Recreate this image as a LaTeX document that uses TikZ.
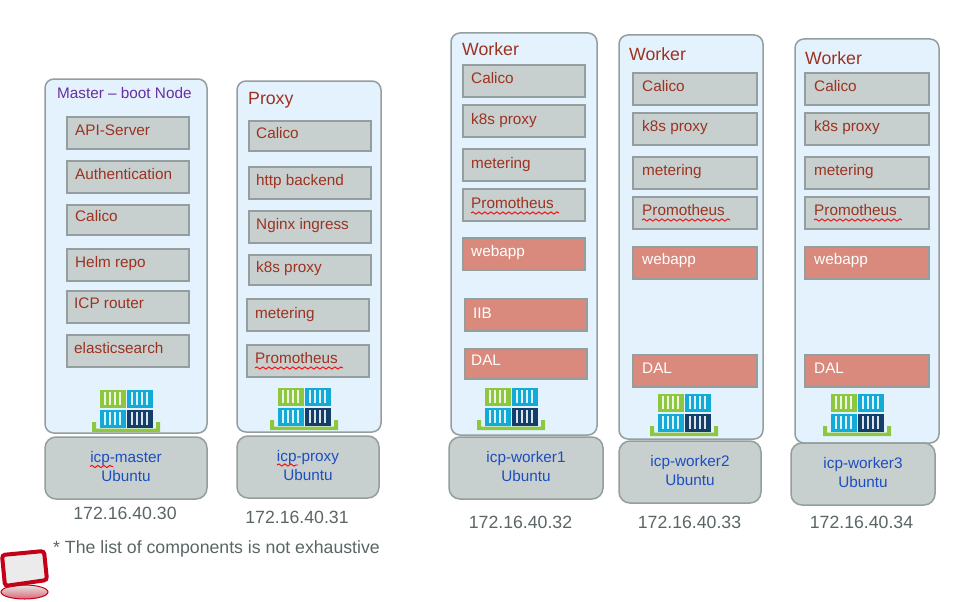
\documentclass[tikz,border=0pt]{standalone}
\usepackage{fontspec}
\usetikzlibrary{decorations.pathmorphing}
\setmainfont{Liberation Sans}
\definecolor{panelblue}{RGB}{228,242,254}
\definecolor{panelline}{RGB}{148,158,158}
\definecolor{compgrey}{RGB}{200,207,207}
\definecolor{compred}{RGB}{156,50,32}
\definecolor{appsalmon}{RGB}{217,138,125}
\definecolor{hostblue}{RGB}{28,78,190}
\definecolor{masterpurple}{RGB}{104,48,160}
\definecolor{ipgrey}{RGB}{90,102,102}
\definecolor{boxgreen}{RGB}{141,198,63}
\definecolor{boxcyan}{RGB}{20,170,215}
\definecolor{boxnavy}{RGB}{18,62,105}
\definecolor{laptopred}{RGB}{196,0,24}
\tikzset{
  x=1pt,y=-1pt,
  panel/.style={draw=panelline,line width=1.5pt,fill=panelblue,rounded corners=9pt,anchor=north west,inner sep=0pt,outer sep=0pt},
  hostbox/.style={draw=panelline,line width=1.5pt,fill=compgrey,rounded corners=11pt,anchor=north west,inner sep=0pt,outer sep=0pt,
    minimum height=62pt,align=center,text=hostblue,text depth=3pt,font=\fontsize{15.3}{19}\selectfont},
  compbox/.style={draw=panelline,line width=1.5pt,fill=compgrey,anchor=north west,inner sep=0pt,outer sep=0pt,
    minimum width=122pt,minimum height=32pt},
  widebox/.style={compbox,minimum width=124pt},
  appbox/.style={compbox,fill=appsalmon},
  wideapp/.style={widebox,fill=appsalmon},
  comptext/.style={anchor=base west,inner sep=0pt,text=compred,font=\fontsize{15.3}{17}\selectfont},
  apptext/.style={comptext,text=white},
  titletext/.style={anchor=base west,inner sep=0pt,text=compred,font=\fontsize{17.7}{20}\selectfont},
  iptext/.style={anchor=base,inner sep=0pt,text=ipgrey,font=\fontsize{17.7}{20}\selectfont},
  squiggle/.style={draw=red,line width=0.9pt,decorate,decoration={snake,amplitude=1.1pt,segment length=6pt}},
  crate/.pic={
    \fill[#1] (-13,-9) rectangle (13,9);
    \foreach \i in {-7.5,-2.5,2.5,7.5} \fill[white!85!#1] (\i-1.1,-6.5) rectangle (\i+1.1,6.5);
  },
  stack/.pic={
    \pic at (-13.5,-9.5) {crate=boxgreen};
    \pic at (13.5,-9.5) {crate=boxcyan};
    \pic at (-13.5,10.5) {crate=boxcyan};
    \pic at (13.5,10.5) {crate=boxnavy};
    \fill[boxgreen] (-34,14) -- (-30,14) -- (-30,20.5) -- (30,20.5) -- (30,14) -- (34,14) -- (34,24) -- (-34,24) -- cycle;
  }
}

\begin{document}
\begin{tikzpicture}
    \useasboundingbox (0,0) rectangle (966,602);
    \fill[white] (0,0) rectangle (966,602);

    % master
    \node[panel,minimum width=162pt,minimum height=354pt] (masterpanel) at (45,79) {};
    \node[anchor=base west,inner sep=0pt,text=masterpurple,font=\fontsize{15.3}{17}\selectfont] (mastertitle) at (57,98) {Master -- boot Node};
    \node[compbox] (m1) at (67,117) {};
    \node[compbox] (m2) at (67,161) {};
    \node[compbox,minimum height=30pt] (m3) at (67,205) {};
    \node[compbox] (m4) at (67,249) {};
    \node[compbox] (m5) at (67,291) {};
    \node[compbox] (m6) at (67,335) {};
    \node[comptext] (m1t) at (75,135) {API-Server};
    \node[comptext] (m2t) at (75,179) {Authentication};
    \node[comptext] (m3t) at (75,221) {Calico};
    \node[comptext] (m4t) at (75,267) {Helm repo};
    \node[comptext] (m5t) at (74,308) {ICP router};
    \node[comptext] (m6t) at (74,353) {elasticsearch};
    \pic at (126,408) {stack};
    \node[hostbox,minimum width=162pt] (masterhost) at (45,437) {icp-master\\Ubuntu};
    \draw[squiggle] (90,466.5) -- (113,466.5);
    \node[iptext] (masterip) at (125,519) {172.16.40.30};

    % proxy
    \node[panel,minimum width=144pt,minimum height=351pt] (proxypanel) at (237,81) {};
    \node[titletext] (proxytitle) at (248,104) {Proxy};
    \node[compbox,minimum height=30pt] (p1) at (249,121) {};
    \node[compbox] (p2) at (249,167) {};
    \node[compbox] (p3) at (249,211) {};
    \node[compbox,minimum height=30pt] (p4) at (249,255) {};
    \node[compbox] (p5) at (247,299) {};
    \node[compbox] (p6) at (247,345) {};
    \node[comptext] (p1t) at (256,138) {Calico};
    \node[comptext] (p2t) at (256,185) {http backend};
    \node[comptext] (p3t) at (256,229) {Nginx ingress};
    \node[comptext] (p4t) at (256,272) {k8s proxy};
    \node[comptext] (p5t) at (255,318) {metering};
    \node[comptext] (p6t) at (255,363) {Promotheus};
    \draw[squiggle] (255,368) -- (343,368);
    \pic at (304,406) {stack};
    \node[hostbox,minimum width=142pt] (proxyhost) at (237,436) {icp-proxy\\Ubuntu};
    \draw[squiggle] (277,465) -- (298,465);
    \node[iptext] (proxyip) at (297,523) {172.16.40.31};

    % worker1
    \node[panel,minimum width=146pt,minimum height=402pt] (w1panel) at (451,33) {};
    \node[titletext] (w1title) at (462,56) {Worker};
    \node[compbox] (a1) at (463,65) {};
    \node[compbox] (a2) at (463,105) {};
    \node[compbox] (a3) at (463,149) {};
    \node[compbox] (a4) at (463,189) {};
    \node[appbox] (a5) at (463,238) {};
    \node[appbox] (a6) at (465,299) {};
    \node[appbox,minimum height=30pt] (a7) at (465,349) {};
    \node[comptext] (a1t) at (471,84) {Calico};
    \node[comptext] (a2t) at (471,124) {k8s proxy};
    \node[comptext] (a3t) at (471,168) {metering};
    \node[comptext] (a4t) at (471,208) {Promotheus};
    \node[apptext] (a5t) at (471,256) {webapp};
    \node[apptext] (a6t) at (473,318) {IIB};
    \node[apptext] (a7t) at (471,365) {DAL};
    \draw[squiggle] (471,213) -- (559,213);
    \pic at (511,406) {stack};
    \node[hostbox,minimum width=154pt] (w1host) at (449,437) {icp-worker1\\Ubuntu};
    \node[iptext] (w1ip) at (520.5,528) {172.16.40.32};

    % worker2
    \node[panel,minimum width=144pt,minimum height=404pt] (w2panel) at (619,35) {};
    \node[titletext] (w2title) at (629,60) {Worker};
    \node[widebox] (b1) at (633,73) {};
    \node[widebox] (b2) at (633,113) {};
    \node[widebox] (b3) at (633,157) {};
    \node[widebox] (b4) at (633,197) {};
    \node[wideapp] (b5) at (633,247) {};
    \node[wideapp] (b6) at (633,355) {};
    \node[comptext] (b1t) at (642,91) {Calico};
    \node[comptext] (b2t) at (642,131) {k8s proxy};
    \node[comptext] (b3t) at (642,175) {metering};
    \node[comptext] (b4t) at (642,215) {Promotheus};
    \node[apptext] (b5t) at (642,264) {webapp};
    \node[apptext] (b6t) at (642,373) {DAL};
    \draw[squiggle] (642,220) -- (730,220);
    \pic at (684,412) {stack};
    \node[hostbox,minimum width=142pt] (w2host) at (619,441) {icp-worker2\\Ubuntu};
    \node[iptext] (w2ip) at (689.5,528) {172.16.40.33};

    % worker3
    \node[panel,minimum width=144pt,minimum height=404pt] (w3panel) at (795,39) {};
    \node[titletext] (w3title) at (805,64) {Worker};
    \node[widebox] (c1) at (805,73) {};
    \node[widebox] (c2) at (805,113) {};
    \node[widebox] (c3) at (805,157) {};
    \node[widebox] (c4) at (805,197) {};
    \node[wideapp] (c5) at (805,247) {};
    \node[wideapp] (c6) at (805,355) {};
    \node[comptext] (c1t) at (814,91) {Calico};
    \node[comptext] (c2t) at (814,131) {k8s proxy};
    \node[comptext] (c3t) at (814,175) {metering};
    \node[comptext] (c4t) at (814,215) {Promotheus};
    \node[apptext] (c5t) at (814,264) {webapp};
    \node[apptext] (c6t) at (814,373) {DAL};
    \draw[squiggle] (814,220) -- (902,220);
    \pic at (857,412) {stack};
    \node[hostbox,minimum width=144pt] (w3host) at (791,443) {icp-worker3\\Ubuntu};
    \node[iptext] (w3ip) at (861.5,528) {172.16.40.34};

    % footnote
    \node[anchor=base west,inner sep=0pt,text=ipgrey,font=\fontsize{17.7}{20}\selectfont] (footnote) at (53,553) {* The list of components is not exhaustive};
    \draw[draw=laptopred,line width=1pt,bottom color=laptopred!60!white,top color=white!90!black] (24.5,592) ellipse (23.5pt and 7pt);
    \draw[draw=laptopred,line width=4pt,fill=white!92!black,rounded corners=3pt] (2,555) -- (44,551) -- (47,580) -- (5,586) -- cycle;
\end{tikzpicture}
\end{document}
